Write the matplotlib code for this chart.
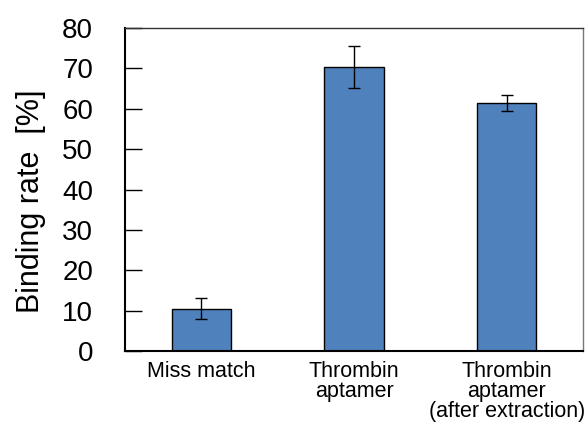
import matplotlib
matplotlib.use("Agg")
import matplotlib.pyplot as plt

categories = ["Miss match", "Thrombin\naptamer", "Thrombin\naptamer\n(after extraction)"]
bindingRate = [10.5, 70.4, 61.4]
errors = [2.6, 5.2, 1.9]
yTicks = [0, 10, 20, 30, 40, 50, 60, 70, 80]

plt.rcParams['font.family'] = ['Liberation Sans', 'DejaVu Sans']

fig = plt.figure(figsize=(5.86, 4.22), dpi=100)
ax = fig.add_axes([0.2133, 0.1682, 0.7816, 0.7654])

positions = range(len(categories))
ax.bar(positions, bindingRate, width=0.39, color='#4F81BD', edgecolor='black', linewidth=1.0,
       yerr=errors, capsize=4, error_kw={'elinewidth': 1.0, 'capthick': 1.0, 'ecolor': 'black'})

ax.set_xlim(-0.5, 2.5)
ax.set_ylim(0, 80)
ax.set_yticks(yTicks)
ax.set_xticks(list(positions))
ax.set_xticklabels(categories, fontsize=15.5, linespacing=0.95)
ax.tick_params(axis='y', direction='in', length=12, width=1.0, labelsize=20, pad=23)
ax.tick_params(axis='x', length=0, pad=7)

ax.set_ylabel('Binding rate  [%]', fontsize=22)
ax.yaxis.set_label_coords(-0.172, 0.465)

ax.spines['left'].set_linewidth(1.5)
ax.spines['bottom'].set_linewidth(1.5)
ax.spines['top'].set_color('#333333')
ax.spines['right'].set_color('#777777')
ax.spines['top'].set_linewidth(1.0)
ax.spines['right'].set_linewidth(1.0)

fig.savefig('out.png', dpi=100)
